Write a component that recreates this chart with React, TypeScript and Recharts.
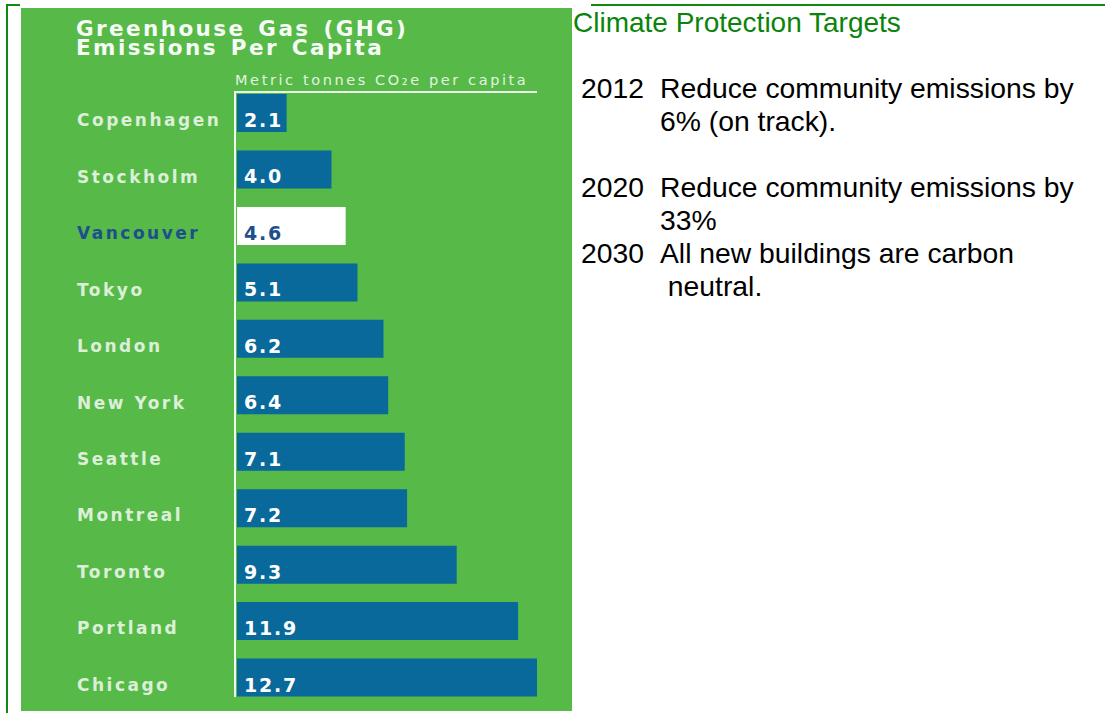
import { BarChart, Bar, XAxis, YAxis, Cell, LabelList } from 'recharts';

const cities = ['Copenhagen', 'Stockholm', 'Vancouver', 'Tokyo', 'London', 'New York', 'Seattle', 'Montreal', 'Toronto', 'Portland', 'Chicago'];
const emissions = [2.1, 4.0, 4.6, 5.1, 6.2, 6.4, 7.1, 7.2, 9.3, 11.9, 12.7];
const highlightCity = 'Vancouver';

const titleLines = ['Greenhouse Gas (GHG)', 'Emissions Per Capita'];
const targetYears = ['2012', '2020', '2030'];
const targetLines = [
  ['Reduce community emissions by', '6% (on track).'],
  ['Reduce community emissions by', '33%'],
  ['All new buildings are carbon', ' neutral.'],
];

const rows = cities.map((city, i) => ({ city, value: emissions[i] }));

const GREEN = '#56b948';
const BLUE = '#08699a';
const NAVY = '#1d4f8c';
const DARK_GREEN = '#128a12';
const GOTHAM = '"DejaVu Sans", sans-serif';
const ARIAL = '"Liberation Sans", Arial, sans-serif';

const CityTick = ({ y, payload }: any) => {
  const hi = payload.value === highlightCity;
  return (
    <text
      x={56}
      y={y + 7}
      dominantBaseline="central"
      fontFamily={GOTHAM}
      fontWeight="bold"
      fontSize={17}
      letterSpacing={2.5}
      fill={hi ? NAVY : '#dcefd8'}
    >
      {payload.value}
    </text>
  );
};

const ValueLabel = ({ x, y, height, value, index }: any) => {
  const hi = cities[index] === highlightCity;
  return (
    <text
      x={x + 7}
      y={y + height / 2 + 7}
      dominantBaseline="central"
      fontFamily={GOTHAM}
      fontWeight="bold"
      fontSize={19}
      letterSpacing={1.8}
      fill={hi ? NAVY : '#ffffff'}
    >
      {Number(value).toFixed(1)}
    </text>
  );
};

const abs = (s: any) => ({ position: 'absolute' as const, ...s });

export default function App() {
  return (
    <div style={abs({ left: 0, top: 0, width: 1105, height: 713, background: '#fff', overflow: 'hidden' })}>
      {/* frame lines */}
      <div style={abs({ left: 6, top: 4, width: 2, height: 709, background: DARK_GREEN })} />
      <div style={abs({ left: 6, top: 4, width: 14, height: 2, background: DARK_GREEN })} />
      <div style={abs({ left: 591, top: 4, width: 514, height: 2, background: DARK_GREEN })} />

      <div style={abs({ left: 21, top: 8, width: 551, height: 703, background: GREEN })}>
        <BarChart
          width={551}
          height={703}
          data={rows}
          layout="vertical"
          margin={{ top: 77, right: 35, bottom: 5, left: 0 }}
          barCategoryGap="16%"
        >
          <XAxis type="number" domain={[0, 12.7]} hide />
          <YAxis
            type="category"
            dataKey="city"
            width={216}
            axisLine={false}
            tickLine={false}
            interval={0}
            tick={<CityTick />}
          />
          <Bar dataKey="value" isAnimationActive={false}>
            {rows.map((r) => (
              <Cell key={r.city} fill={r.city === highlightCity ? '#ffffff' : BLUE} />
            ))}
            <LabelList dataKey="value" content={<ValueLabel />} />
          </Bar>
        </BarChart>
      </div>

      {/* axis rules */}
      <div style={abs({ left: 234, top: 91, width: 2, height: 606, background: '#eef7ec' })} />
      <div style={abs({ left: 234, top: 91, width: 303, height: 2, background: '#eef7ec' })} />

      {titleLines.map((t, i) => (
        <div
          key={t}
          style={abs({
            left: 76,
            top: 20 + i * 19,
            height: 18,
            fontFamily: GOTHAM,
            fontWeight: 'bold',
            fontSize: 21.5,
            lineHeight: '18px',
            letterSpacing: 2.4,
            wordSpacing: 3,
            color: '#f6fbf5',
            whiteSpace: 'nowrap',
          })}
        >
          {t}
        </div>
      ))}
      <div
        style={abs({
          left: 235,
          top: 72,
          fontFamily: GOTHAM,
          fontSize: 14.5,
          lineHeight: '16px',
          letterSpacing: 2.6,
          color: '#e4f3e1',
          whiteSpace: 'nowrap',
        })}
      >
        Metric tonnes CO₂e per capita
      </div>

      <div
        style={abs({
          left: 573,
          top: 8,
          fontFamily: ARIAL,
          fontSize: 28,
          lineHeight: '30px',
          color: '#0a840a',
          whiteSpace: 'nowrap',
        })}
      >
        Climate Protection Targets
      </div>

      <div
        style={abs({
          left: 581,
          top: 72,
          fontFamily: ARIAL,
          fontSize: 28.3,
          lineHeight: '33px',
          color: '#000',
          whiteSpace: 'pre',
        })}
      >
        {targetYears.map((yr, i) => (
          <div key={yr} style={{ display: 'flex', marginBottom: i === 0 ? 33 : 0 }}>
            <div style={{ width: 79 }}>{yr}</div>
            <div>
              {targetLines[i].map((t) => (
                <div key={t}>{t}</div>
              ))}
            </div>
          </div>
        ))}
      </div>
    </div>
  );
}
